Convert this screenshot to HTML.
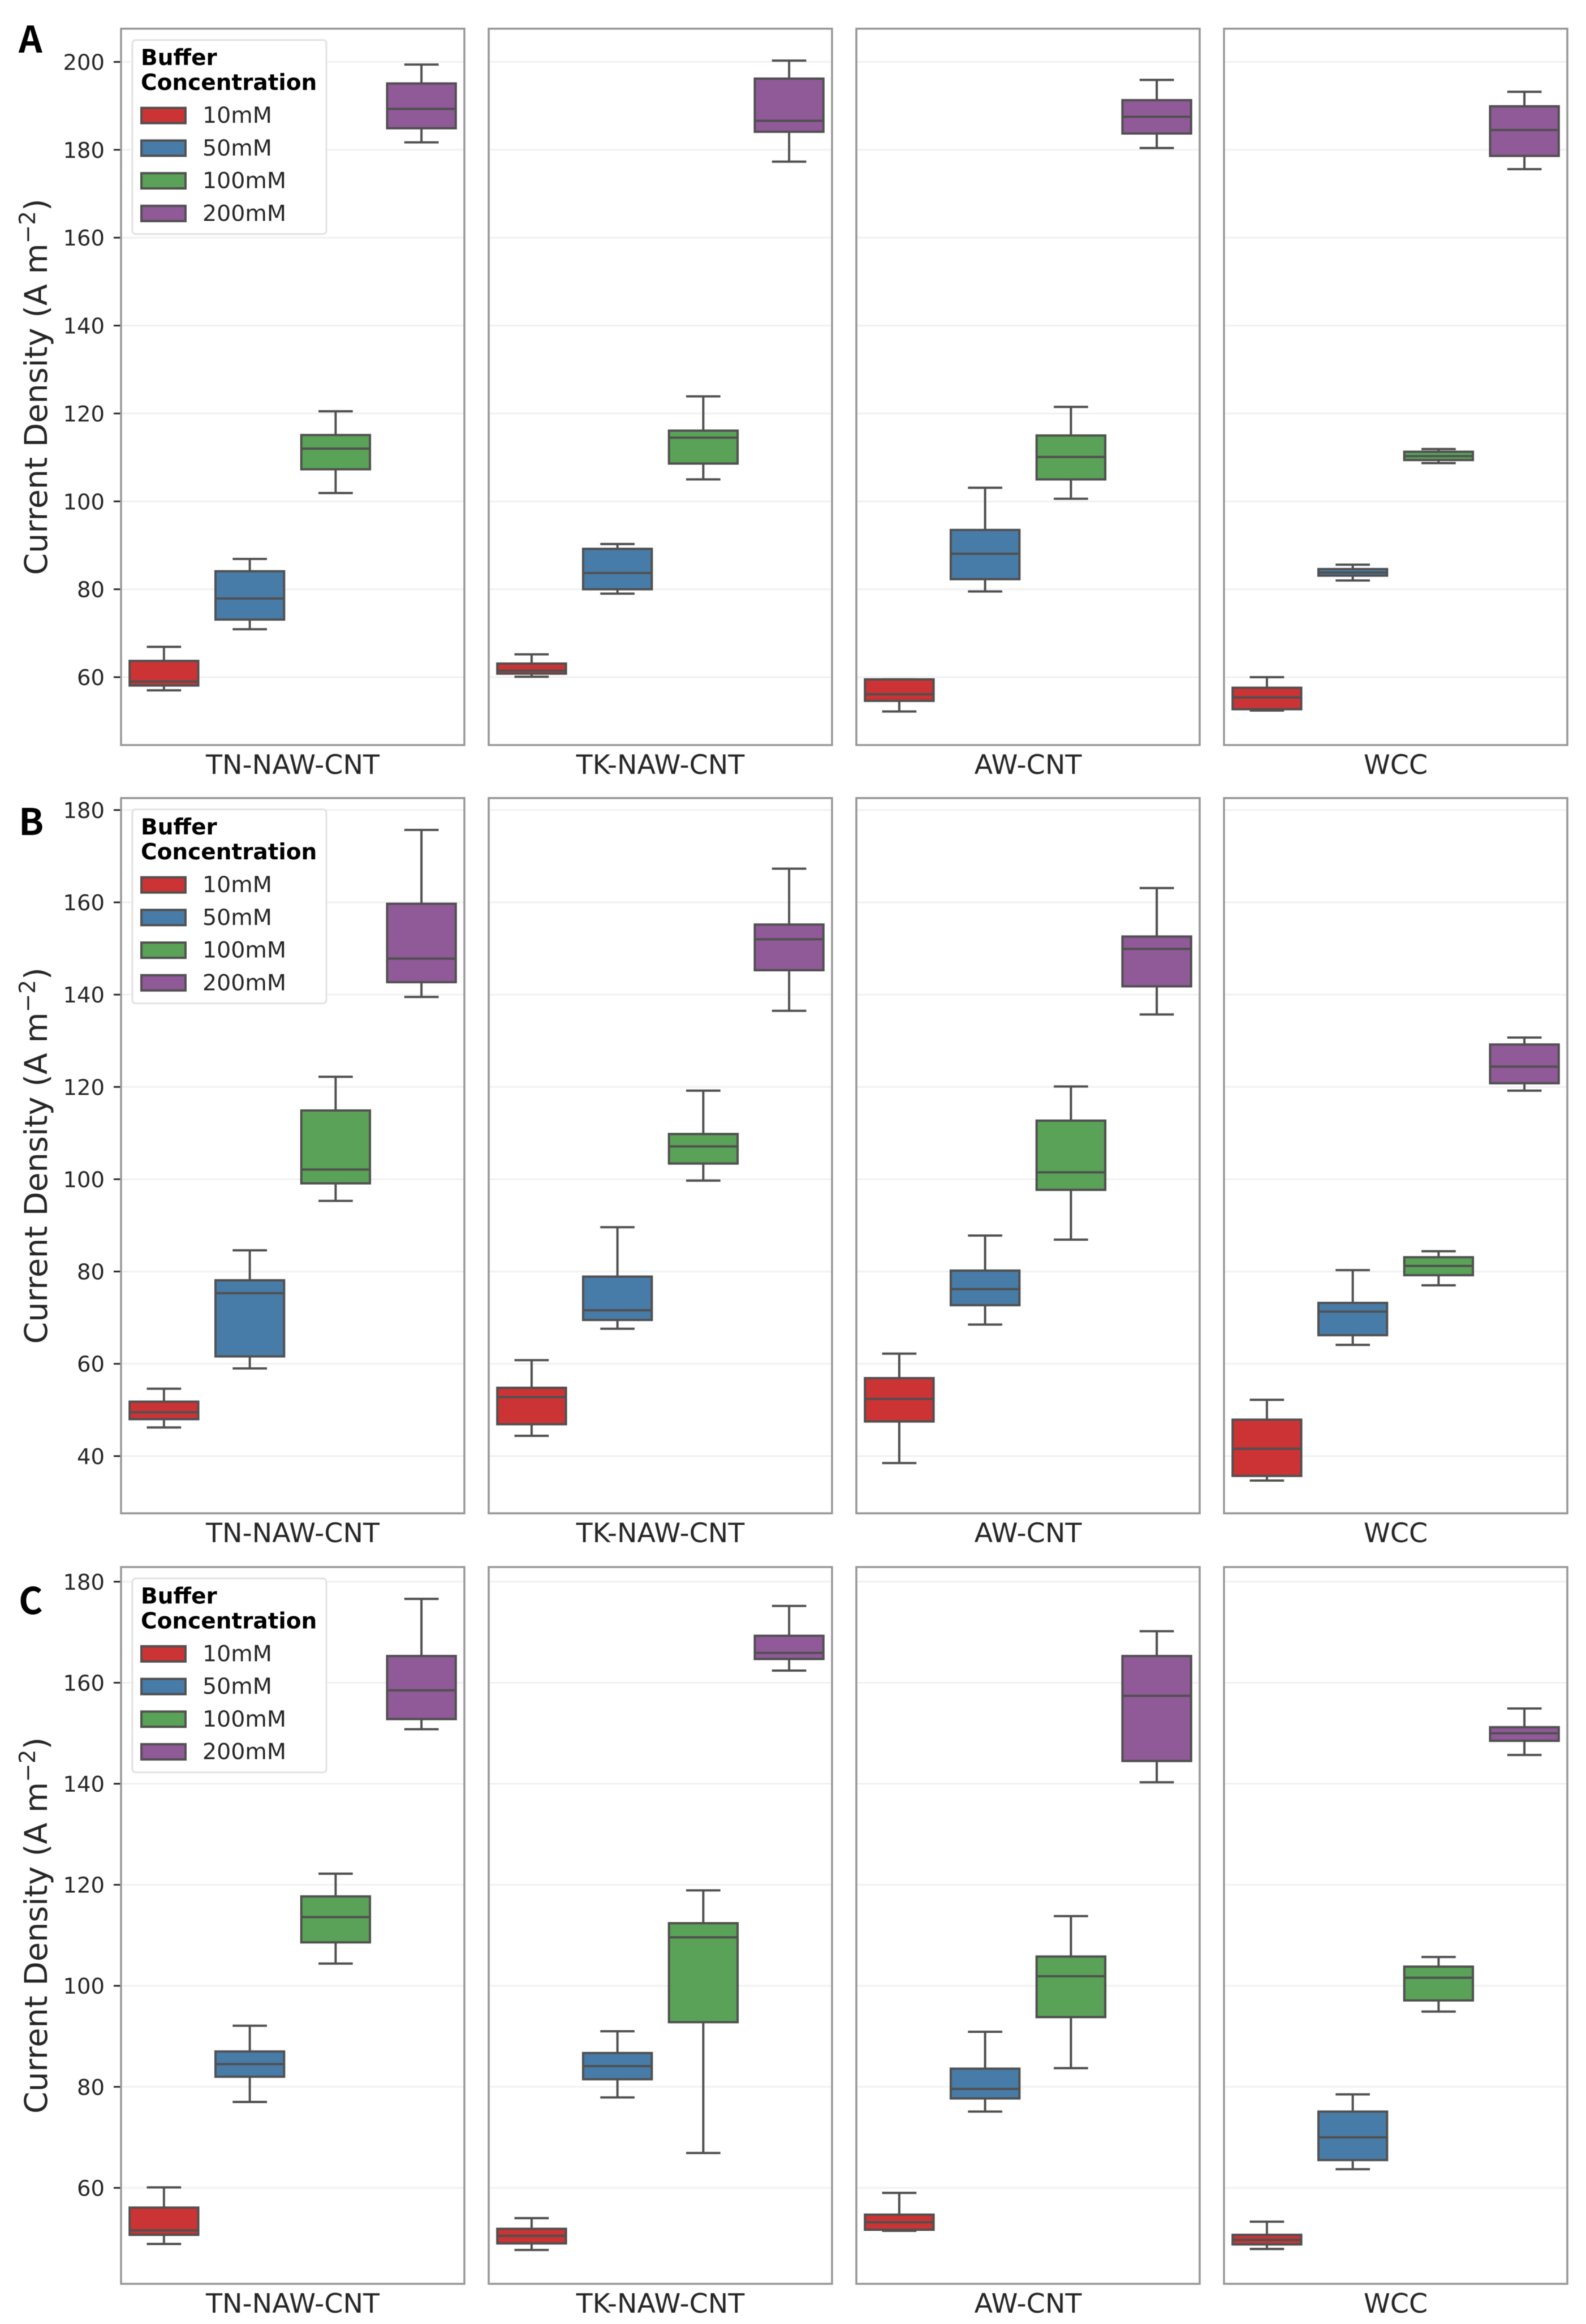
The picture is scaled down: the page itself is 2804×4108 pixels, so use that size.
<!DOCTYPE html>
<html lang="en">
<head>
<meta charset="utf-8">
<title>Current density box plots</title>
<style>
html,body{margin:0;padding:0;background:#fff;}
svg{display:block;filter:blur(0.9px);}
text{font-family:"DejaVu Sans","Liberation Sans",sans-serif;fill:#262626;}
text.strong{fill:#000;}
</style>
</head>
<body>
<svg id="figure" xmlns="http://www.w3.org/2000/svg" width="2804" height="4108" viewBox="0 0 2804 4108"></svg>
<script>
/* ---------- chart data ---------- */
const categories = ["TN-NAW-CNT", "TK-NAW-CNT", "AW-CNT", "WCC"];
const concentrations = ["10mM", "50mM", "100mM", "200mM"];
const rowLetters = ["A", "B", "C"];
const ticksA = [60, 80, 100, 120, 140, 160, 180, 200];
const ticksB = [40, 60, 80, 100, 120, 140, 160, 180];
const ticksC = [60, 80, 100, 120, 140, 160, 180];
const yDomainA = [44.55, 207.56];
const yDomainB = [27.6, 182.6];
const yDomainC = [41.0, 182.9];

/* each box: [lower whisker, Q1, median, Q3, upper whisker] */
const boxesA_TN = [[57.0,58.1,59.0,63.7,66.9],[70.9,73.1,77.9,84.1,86.9],[101.9,107.3,112.0,115.1,120.5],[181.7,184.9,189.3,195.1,199.4]];
const boxesA_TK = [[60.1,60.8,61.5,63.1,65.2],[79.0,80.0,83.7,89.2,90.3],[105.0,108.6,114.5,116.1,123.9],[177.3,184.1,186.6,196.2,200.3]];
const boxesA_AW = [[52.2,54.6,56.1,59.5,59.5],[79.5,82.3,88.1,93.5,103.1],[100.6,105.0,110.1,115.0,121.5],[180.4,183.7,187.5,191.3,195.9]];
const boxesA_WCC = [[52.4,52.7,55.4,57.6,60.0],[82.0,83.1,83.8,84.6,85.6],[108.7,109.4,110.3,111.3,111.9],[175.6,178.6,184.5,189.9,193.2]];

const boxesB_TN = [[46.2,48.0,49.5,51.8,54.6],[59.0,61.6,75.3,78.1,84.6],[95.3,99.1,102.1,114.9,122.2],[139.5,142.7,147.8,159.7,175.7]];
const boxesB_TK = [[44.4,46.9,52.8,54.8,60.8],[67.6,69.5,71.6,78.9,89.6],[99.7,103.4,107.1,109.8,119.2],[136.5,145.3,152.0,155.2,167.3]];
const boxesB_AW = [[38.5,47.5,52.4,56.9,62.2],[68.5,72.7,76.2,80.2,87.8],[86.9,97.7,101.5,112.7,120.1],[135.7,141.8,149.9,152.6,163.1]];
const boxesB_WCC = [[34.7,35.7,41.6,47.9,52.2],[64.1,66.2,71.3,73.2,80.3],[77.0,79.2,81.2,83.1,84.4],[119.2,120.8,124.4,129.2,130.7]];

const boxesC_TN = [[48.9,50.7,51.6,56.1,60.1],[77.0,82.0,84.5,87.0,92.1],[104.4,108.6,113.6,117.7,122.2],[150.8,152.8,158.5,165.3,176.6]];
const boxesC_TK = [[47.7,49.0,50.5,51.9,54.0],[77.9,81.5,84.1,86.7,91.0],[66.9,92.8,109.6,112.4,118.9],[162.4,164.7,165.9,169.3,175.2]];
const boxesC_AW = [[51.5,51.7,53.2,54.7,59.0],[75.1,77.7,79.6,83.6,90.9],[83.7,93.8,101.9,105.8,113.8],[140.3,144.5,157.4,165.3,170.2]];
const boxesC_WCC = [[47.9,48.8,49.7,50.7,53.3],[63.7,65.5,70.0,75.1,78.5],[94.9,97.1,101.6,103.8,105.7],[145.7,148.5,150.0,151.2,154.9]];

const rowTicks = [ticksA, ticksB, ticksC];
const rowDomains = [yDomainA, yDomainB, yDomainC];
const rowBoxes = [
  [boxesA_TN, boxesA_TK, boxesA_AW, boxesA_WCC],
  [boxesB_TN, boxesB_TK, boxesB_AW, boxesB_WCC],
  [boxesC_TN, boxesC_TK, boxesC_AW, boxesC_WCC]
];

/* ---------- layout and style ---------- */
const SVG_NS = "http://www.w3.org/2000/svg";
const svg = document.getElementById("figure");
const colors = ["#cb3335", "#477ca8", "#59a257", "#905998"];
const panelLefts = [214, 864, 1514, 2164];
const panelWidth = 607;
const rowTops = [50.7, 1410.7, 2770];
const rowBottoms = [1317, 2675, 4037];
const letterBaselines = [93, 1476, 2853];
const lineColor = "#505050";

function make(tag, parent, attrs, content) {
  const node = document.createElementNS(SVG_NS, tag);
  for (const key in attrs) node.setAttribute(key, attrs[key]);
  if (content !== undefined) node.textContent = content;
  parent.appendChild(node);
  return node;
}
function yScale(row) {
  const d = rowDomains[row], top = rowTops[row], bottom = rowBottoms[row];
  return v => bottom - (v - d[0]) / (d[1] - d[0]) * (bottom - top);
}
function xScale(panel) {
  return i => panelLefts[panel] + (i + 0.5) * panelWidth / concentrations.length;
}

function drawBox(parent, stats, cx, y, color, label) {
  const [low, q1, med, q3, high] = stats;
  const boxW = panelWidth / concentrations.length * 0.8;
  const capW = boxW / 2;
  const g = make("g", parent, {});
  
  
  const common = {stroke: lineColor, "stroke-width": 4, fill: "none"};

  const whiskerHigh = make("line", g, {x1: cx, x2: cx, y1: y(q3), y2: y(high), ...common});
  
  
  const whiskerLow = make("line", g, {x1: cx, x2: cx, y1: y(q1), y2: y(low), ...common});
  
  
  const capHigh = make("line", g, {x1: cx - capW / 2, x2: cx + capW / 2, y1: y(high), y2: y(high), ...common});
  
  
  const capLow = make("line", g, {x1: cx - capW / 2, x2: cx + capW / 2, y1: y(low), y2: y(low), ...common});
  
  
  const rect = make("rect", g, {x: cx - boxW / 2, y: y(q3), width: boxW, height: y(q1) - y(q3), fill: color, stroke: lineColor, "stroke-width": 4});
  
  
  const median = make("line", g, {x1: cx - boxW / 2, x2: cx + boxW / 2, y1: y(med), y2: y(med), ...common});
  
  
}

function drawLegend(parent, panelTop) {
  const top = panelTop + 20;
  const g = make("g", parent, {});
  
  
  const frame = make("rect", g, {x: 234, y: top, width: 343, height: 343, rx: 6, fill: "#ffffff", stroke: "#e2e2e2", "stroke-width": 3});
  
  
  const t1 = make("text", g, {class: "strong", x: 249, y: top + 44.5, "font-size": 39, "font-weight": 700}, "Buffer");
  
  
  const t2 = make("text", g, {class: "strong", x: 249, y: top + 88.5, "font-size": 39, "font-weight": 700}, "Concentration");
  
  
  concentrations.forEach((name, i) => {
    const rowY = top + 118 + i * 57.7;
    const entry = make("g", g, {});
    
    
    const swatch = make("rect", entry, {x: 250, y: rowY + 2, width: 78, height: 27, fill: colors[i], stroke: lineColor, "stroke-width": 4});
    
    
    const label = make("text", entry, {x: 358, y: rowY + 28.5, "font-size": 39.5}, name);
    
    
  });
}

/* ---------- draw ---------- */
rowLetters.forEach((letter, row) => {
  const y = yScale(row);
  const top = rowTops[row], bottom = rowBottoms[row];
  const rowGroup = make("g", svg, {});
  
  

  const letterText = make("text", rowGroup, {class: "strong", x: 33, y: letterBaselines[row], "font-size": 65, "font-weight": 700,
    style: 'font-family:"Noto Sans CJK SC","DejaVu Sans",sans-serif'}, letter);
  
  

  const titleY = (top + bottom) / 2;
  const yTitle = make("text", rowGroup, {transform: "translate(83," + titleY + ") rotate(-90)", "text-anchor": "middle", "font-size": 55.5});
  
  
  make("tspan", yTitle, {}, "Current Density (A m");
  make("tspan", yTitle, {dy: -21, "font-size": 39}, "\u22122");
  make("tspan", yTitle, {dy: 21}, ")");

  rowTicks[row].forEach(t => {
    const tick = make("line", rowGroup, {x1: 201, x2: panelLefts[0], y1: y(t), y2: y(t), stroke: "#2a2a2a", "stroke-width": 3});
    
    
    const label = make("text", rowGroup, {x: 185, y: y(t) + 14, "text-anchor": "end", "font-size": 38.5}, String(t));
    
    
  });

  categories.forEach((cat, p) => {
    const left = panelLefts[p];
    const panel = make("g", rowGroup, {});
    
    

    rowTicks[row].forEach(t => {
      const grid = make("line", panel, {x1: left, x2: left + panelWidth, y1: y(t), y2: y(t), stroke: "#f1f1f1", "stroke-width": 3});
      
      
    });

    const x = xScale(p);
    concentrations.forEach((conc, i) => {
      drawBox(panel, rowBoxes[row][p][i], x(i), y, colors[i], cat + '-' + conc);
    });

    if (p === 0) drawLegend(panel, top);

    const frame = make("rect", panel, {x: left, y: top, width: panelWidth, height: bottom - top, fill: "none", stroke: "#979797", "stroke-width": 3.5});
    
    

    const xLabel = make("text", panel, {x: left + panelWidth / 2, y: bottom + 51, "text-anchor": "middle", "font-size": 47.5}, cat);
    
    
  });
});
</script>
</body>
</html>
